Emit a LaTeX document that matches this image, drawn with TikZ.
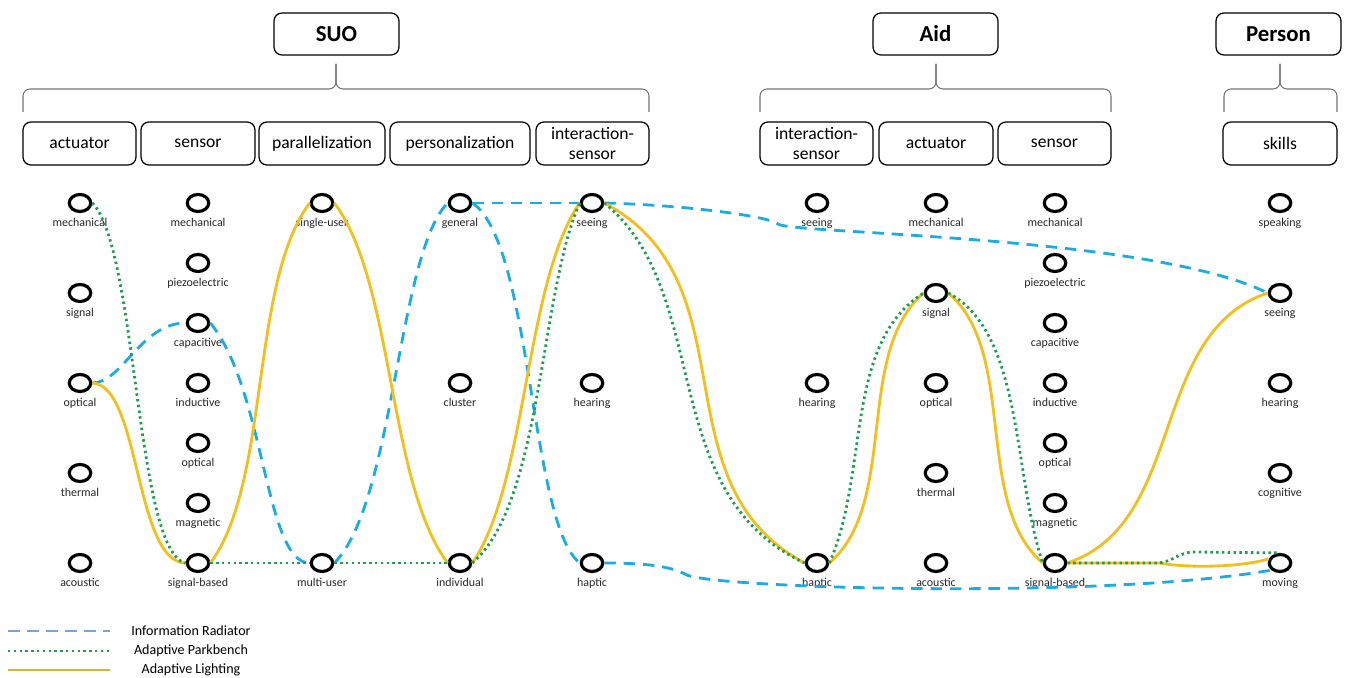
\documentclass[tikz,border=0pt]{standalone}
\usepackage{fontspec}
\setmainfont{Carlito}
\usetikzlibrary{shapes.geometric}
\definecolor{irblue}{HTML}{1CACE3}
\definecolor{pbgreen}{HTML}{1F9D55}
\definecolor{algold}{HTML}{F2BF1F}
\definecolor{irkey}{HTML}{7DA4D1}
\definecolor{alkey}{HTML}{D6B43B}

\begin{document}
\begin{tikzpicture}
 [x=0.02cm, y=-0.02cm, line join=round,
  head/.style={draw, rounded corners=4.5pt, line width=0.7pt, minimum width=2.5cm,
    minimum height=0.84cm, font=\fontsize{13}{15}\selectfont\bfseries},
  cat/.style={draw, rounded corners=4.5pt, line width=0.7pt, minimum height=0.86cm,
    inner sep=1pt, align=center, font=\fontsize{10}{11}\selectfont},
  feat/.style={ellipse, draw, line width=1.8pt, minimum width=0.43cm,
    minimum height=0.34cm, inner sep=0pt},
  lbl/.style={inner sep=0pt, text height=5pt, text depth=1.5pt, yshift=-2.5pt,
    font=\fontsize{6.8}{8}\selectfont, text=black!85},
  brace/.style={draw=black!55, line width=0.6pt, rounded corners=4pt},
  radiator/.style={irblue, line width=1.6pt, dash pattern=on 6.5pt off 4.5pt},
  parkbench/.style={pbgreen, line width=1.6pt, dash pattern=on 1.4pt off 1.9pt},
  lighting/.style={algold, line width=1.6pt}]

  \useasboundingbox (0,0) rectangle (1350,678);

  % top level
  \node[head] (suo) at (336.5,34) {SUO};
  \node[head] (aid) at (935.5,34) {Aid};
  \node[head] (person) at (1278.5,34) {Person};

  \draw[brace] (23,112) -- (23,89) -- (336,89) -- (336,64);
  \draw[brace] (649,112) -- (649,89) -- (336,89) -- (336,64);
  \draw[brace] (760,112) -- (760,89) -- (936,89) -- (936,64);
  \draw[brace] (1111,112) -- (1111,89) -- (936,89) -- (936,64);
  \draw[brace] (1224,112) -- (1224,89) -- (1280,89) -- (1280,64);
  \draw[brace] (1337,112) -- (1337,89) -- (1280,89) -- (1280,64);

  % categories
  \foreach \n/\cx/\w/\txt in {sact/79.5/2.26/actuator, ssen/198/2.28/sensor,
      spar/322/2.52/parallelization, sper/460/2.8/personalization,
      sint/592.5/2.26/{interaction-\\sensor}, aint/816.5/2.26/{interaction-\\sensor},
      aact/936/2.28/actuator, asen/1054.5/2.26/sensor, pski/1280/2.28/skills}
    \node[cat, minimum width=\w cm] (\n) at (\cx,143.5) {\txt};

  % features
  \foreach \col/\cx in {sa/80, aa/936}
    \foreach \n/\txt [count=\k from 0] in {mech/mechanical, sig/signal, opt/optical,
        therm/thermal, acou/acoustic}
      \node[feat, label={[lbl]below:\txt}] (\col-\n) at (\cx,{203+90*\k}) {};
  \foreach \col/\cx in {ss/198, as/1055}
    \foreach \n/\txt [count=\k from 0] in {mech/mechanical, piezo/piezoelectric,
        cap/capacitive, ind/inductive, opt/optical, mag/magnetic, sigb/signal-based}
      \node[feat, label={[lbl]below:\txt}] (\col-\n) at (\cx,{203+60*\k}) {};
  \foreach \col/\cx in {si/592, ai/817}
    \foreach \n/\txt [count=\k from 0] in {see/seeing, hear/hearing, hapt/haptic}
      \node[feat, label={[lbl]below:\txt}] (\col-\n) at (\cx,{203+180*\k}) {};
  \foreach \n/\txt [count=\k from 0] in {single/single-user, multi/multi-user}
    \node[feat, label={[lbl]below:\txt}] (sp-\n) at (322,{203+360*\k}) {};
  \foreach \n/\txt [count=\k from 0] in {gen/general, clus/cluster, indiv/individual}
    \node[feat, label={[lbl]below:\txt}] (sz-\n) at (460,{203+180*\k}) {};
  \foreach \n/\txt [count=\k from 0] in {speak/speaking, see/seeing, hear/hearing,
      cog/cognitive, move/moving}
    \node[feat, label={[lbl]below:\txt}] (ps-\n) at (1280,{203+90*\k}) {};

  \coordinate (kinkA) at (778,224);
  \coordinate (kinkB) at (685,574);
  \coordinate (dipY) at (1160,563);
  \coordinate (stepG) at (1155,563);
  \coordinate (stepG2) at (1195,552);

  % Information Radiator
  \draw[radiator] (sa-opt.east) .. controls +(30,0) and +(-45,0) .. (ss-cap.west);
  \draw[radiator] (ss-cap.east) .. controls +(55,67) and +(-45,0) .. (sp-multi.west);
  \draw[radiator] (sp-multi.east) .. controls +(60,-60) and +(-50,50) .. (sz-gen.west);
  \draw[radiator] (sz-gen.east) .. controls +(60,40) and +(-50,-40) .. (si-hapt.west);
  \draw[radiator] (sz-gen.east) -- (si-see.west);
  \draw[radiator] (si-see.east) .. controls +(80,2) and +(-10,-8) .. (kinkA)
    .. controls +(12,10) and +(-117,-58) .. (ps-see.west);
  \draw[radiator] (si-hapt.east) .. controls +(50,0) and +(-12,-6) .. (kinkB)
    .. controls +(15,14) and +(-170,30) .. (ps-move.south west);

  % Adaptive Lighting
  \draw[lighting] (sa-opt.east) .. controls +(48,2) and +(-51,0) .. (ss-sigb.west);
  \draw[lighting] (ss-sigb.east) .. controls +(60,-80) and +(-60,80) .. (sp-single.west);
  \draw[lighting] (sp-single.east) .. controls +(60,80) and +(-60,-80) .. (sz-indiv.west);
  \draw[lighting] (sz-indiv.east) .. controls +(55,-80) and +(-55,80) .. (si-see.west);
  \draw[lighting] (si-see.east) .. controls +(150,80) and +(-150,-80) .. (ai-hapt.west);
  \draw[lighting] (ai-hapt.east) .. controls +(70,-60) and +(-70,60) .. (aa-sig.west);
  \draw[lighting] (aa-sig.east) .. controls +(70,60) and +(-70,-60) .. (as-sigb.west);
  \draw[lighting] (as-sigb.east) .. controls +(120,-40) and +(-120,40) .. (ps-see.west);
  \draw[lighting] (as-sigb.east) -- (dipY) .. controls +(18,4) and +(-35,10) .. (ps-move.160);

  % Adaptive Parkbench
  \draw[parkbench] (sa-mech.east) .. controls +(45,45) and +(-50,-10) .. (ss-sigb.west);
  \draw[parkbench] (ss-sigb.east) -- (sp-multi.west);
  \draw[parkbench] (sp-multi.east) -- (sz-indiv.west);
  \draw[parkbench] (sz-indiv.east) .. controls +(70,-60) and +(-40,90) .. (si-see.west);
  \draw[parkbench] (si-see.east) .. controls +(110,90) and +(-150,-70) .. (ai-hapt.west);
  \draw[parkbench] (ai-hapt.east) .. controls +(40,-90) and +(-80,50) .. (aa-sig.west);
  \draw[parkbench] (aa-sig.east) .. controls +(75,40) and +(-30,-90) .. (as-sigb.west);
  \draw[parkbench] (as-sigb.east) -- (stepG) .. controls +(18,0) and +(-18,0) .. (stepG2)
    -- (ps-move.north);

  % legend
  \node[font=\fontsize{8}{10}\selectfont] (keyIR) at (191,631) {Information Radiator};
  \node[font=\fontsize{8}{10}\selectfont] (keyPB) at (191,651) {Adaptive Parkbench};
  \node[font=\fontsize{8}{10}\selectfont] (keyAL) at (191,670) {Adaptive Lighting};
  \coordinate (lineIR) at (8,631);
  \coordinate (linePB) at (8,651);
  \coordinate (lineAL) at (8,670);
  \draw[radiator, irkey, dash pattern=on 6.8pt off 4pt] (lineIR) -- +(102,0);
  \draw[parkbench] (linePB) -- +(102,0);
  \draw[lighting, alkey] (lineAL) -- +(102,0);

\end{tikzpicture}
\end{document}
